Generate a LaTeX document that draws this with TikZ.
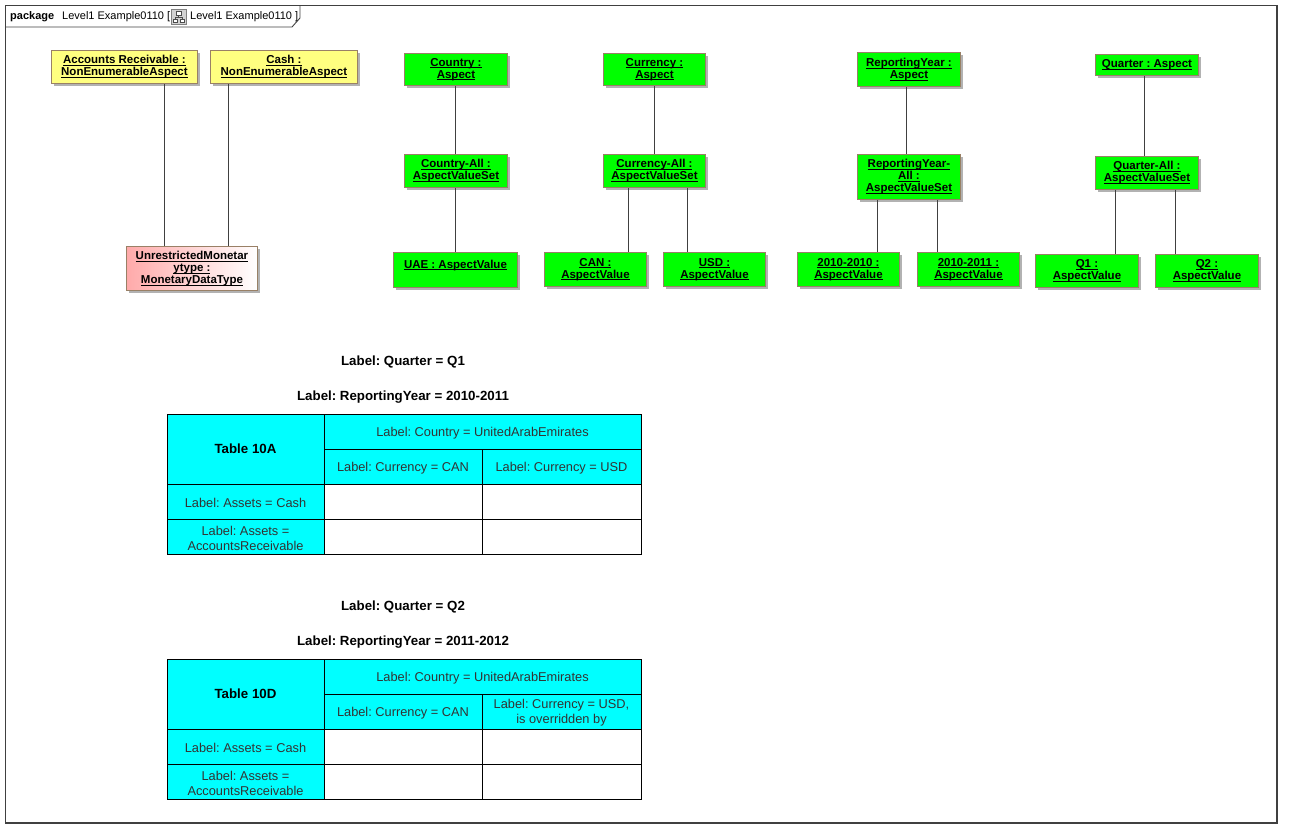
\documentclass[tikz,border=0pt]{standalone}
\usepackage{fontspec}
\setmainfont{Liberation Sans}
\usetikzlibrary{shadows}
\frenchspacing

\definecolor{objline}{RGB}{153,128,102}
\definecolor{objgreen}{RGB}{0,255,0}
\definecolor{objyellow}{RGB}{255,255,128}
\definecolor{objpink}{RGB}{255,170,170}
\definecolor{tabcyan}{RGB}{0,255,255}
\definecolor{framegray}{RGB}{64,64,64}

\newsavebox{\ulinbox}
\newcommand{\ulin}[1]{\sbox{\ulinbox}{#1}\rlap{\rule[-2pt]{\wd\ulinbox}{0.8pt}}\usebox{\ulinbox}}

\tikzset{
  obj/.style={draw=objline,line width=0.9pt,anchor=north west,align=center,inner sep=0pt,
    font=\bfseries\fontsize{11.5}{12}\selectfont,
    general shadow={fill=black!30,shadow xshift=3pt,shadow yshift=-3pt}},
  aspect/.style={obj,fill=objgreen},
  nonenum/.style={obj,fill=objyellow},
  dtype/.style={obj,left color=objpink,right color=white},
  link/.style={draw=framegray,line width=0.9pt},
  cell/.style={font=\fontsize{12.8}{15}\selectfont,text=black!80,align=center,inner sep=0pt,yshift=-1.5pt},
  heading/.style={font=\bfseries\fontsize{13.3}{15}\selectfont,inner sep=0pt}
}

\begin{document}
\begin{tikzpicture}[x=1pt,y=-1pt]
  \useasboundingbox (0,0) rectangle (1292,838);
  % package frame
  \draw[framegray,line width=1.2pt] (5.5,5.5) rectangle (1277,823);
  \draw[framegray,line width=0.9pt] (5.5,27) -- (292,27) -- (300,18) -- (300,5.5);
  \node[anchor=base west,inner sep=0pt,font=\bfseries\fontsize{11}{12}\selectfont] (pkg) at (10,19) {package};
  \node[anchor=base west,inner sep=0pt,font=\fontsize{11}{12}\selectfont] (pkgname) at (62,19) {Level1 Example0110 [};
  \node[anchor=base west,inner sep=0pt,font=\fontsize{11}{12}\selectfont] (pkgref) at (190,19) {Level1 Example0110 ]};
  % diagram icon
  \draw[gray,fill=gray!35] (171,9) rectangle (186,24);
  \draw[black!70,fill=white] (176,11) rectangle (181,15);
  \draw[black!70,fill=white] (173,19) rectangle (177,22.5);
  \draw[black!70,fill=white] (180,19) rectangle (184,22.5);
  \draw[black!70] (178.5,15) -- (178.5,17) -- (175,17) -- (175,19);
  \draw[black!70] (178.5,17) -- (182,17) -- (182,19);

  % aspects
  \node[nonenum,minimum width=146,minimum height=33] (ar) at (51,50) {\ulin{Accounts Receivable :}\\\ulin{NonEnumerableAspect}};
  \node[nonenum,minimum width=147,minimum height=33] (cash) at (210,50) {\ulin{Cash :}\\\ulin{NonEnumerableAspect}};
  \node[dtype,minimum width=131,minimum height=44] (mon) at (126,246) {\ulin{UnrestrictedMonetar}\\\ulin{ytype :}\\\ulin{MonetaryDataType}};

  \node[aspect,minimum width=103,minimum height=32] (country) at (404,53) {\ulin{Country :}\\\ulin{Aspect}};
  \node[aspect,minimum width=103,minimum height=33] (countryall) at (404,154) {\ulin{Country-All :}\\\ulin{AspectValueSet}};
  \node[aspect,minimum width=124,minimum height=35] (uae) at (393,252) {\ulin{UAE : AspectValue}\\\mbox{}};

  \node[aspect,minimum width=102,minimum height=32] (currency) at (603,53) {\ulin{Currency :}\\\ulin{Aspect}};
  \node[aspect,minimum width=102,minimum height=33] (currencyall) at (603,154) {\ulin{Currency-All :}\\\ulin{AspectValueSet}};
  \node[aspect,minimum width=102,minimum height=34] (can) at (544,252) {\ulin{CAN :}\\\ulin{AspectValue}};
  \node[aspect,minimum width=102,minimum height=34] (usd) at (663,252) {\ulin{USD :}\\\ulin{AspectValue}};

  \node[aspect,minimum width=103,minimum height=34] (ryear) at (857,52) {\ulin{ReportingYear :}\\\ulin{Aspect}};
  \node[aspect,minimum width=103,minimum height=45] (ryearall) at (857,154) {\ulin{ReportingYear-}\\\ulin{All :}\\\ulin{AspectValueSet}};
  \node[aspect,minimum width=102,minimum height=34] (y1010) at (797,252) {\ulin{2010-2010 :}\\\ulin{AspectValue}};
  \node[aspect,minimum width=102,minimum height=34] (y1011) at (917,252) {\ulin{2010-2011 :}\\\ulin{AspectValue}};

  \node[aspect,minimum width=103,minimum height=21] (quarter) at (1095,54) {\ulin{Quarter : Aspect}};
  \node[aspect,minimum width=103,minimum height=33] (quarterall) at (1095,156) {\ulin{Quarter-All :}\\\ulin{AspectValueSet}};
  \node[aspect,minimum width=103,minimum height=33] (q1) at (1035,254) {\ulin{Q1 :}\\\ulin{AspectValue}};
  \node[aspect,minimum width=103,minimum height=33] (q2) at (1155,254) {\ulin{Q2 :}\\\ulin{AspectValue}};

  % links
  \foreach \a/\b/\x in {ar/mon/164,cash/mon/228,country/countryall/455,countryall/uae/455,
      currency/currencyall/654,currencyall/can/628,currencyall/usd/687,
      ryear/ryearall/906,ryearall/y1010/877,ryearall/y1011/937,
      quarter/quarterall/1144,quarterall/q1/1115,quarterall/q2/1175}
    \draw[link] (\a.south -| \x,0) -- (\b.north -| \x,0);

  % table 10A
  \begin{scope}[name prefix=ta-]
    \node[heading] (quarter) at (403,362) {Label: Quarter = Q1};
    \node[heading] (year) at (403,397) {Label: ReportingYear = 2010-2011};
    \fill[tabcyan] (167,414) rectangle (641,554);
    \fill[white] (324,484) rectangle (641,554);
    \draw[line width=0.9pt] (167,414) rectangle (641,554);
    \draw[line width=0.9pt] (324,414) -- (324,554) (324,449) -- (641,449) (482,449) -- (482,554)
      (167,484) -- (641,484) (167,519) -- (641,519);
    \node[heading] (title) at (245.5,449) {Table 10A};
    \node[cell] (country) at (482.5,431.5) {Label: Country = UnitedArabEmirates};
    \node[cell] (can) at (403,466.5) {Label: Currency = CAN};
    \node[cell] (usd) at (561.5,466.5) {Label: Currency = USD};
    \node[cell] (cash) at (245.5,501.5) {Label: Assets = Cash};
    \node[cell] (ar) at (245.5,536.5) {Label: Assets =\\AccountsReceivable};
  \end{scope}

  % table 10D
  \begin{scope}[name prefix=td-,shift={(0,245)}]
    \node[heading] (quarter) at (403,362) {Label: Quarter = Q2};
    \node[heading] (year) at (403,397) {Label: ReportingYear = 2011-2012};
    \fill[tabcyan] (167,414) rectangle (641,554);
    \fill[white] (324,484) rectangle (641,554);
    \draw[line width=0.9pt] (167,414) rectangle (641,554);
    \draw[line width=0.9pt] (324,414) -- (324,554) (324,449) -- (641,449) (482,449) -- (482,554)
      (167,484) -- (641,484) (167,519) -- (641,519);
    \node[heading] (title) at (245.5,449) {Table 10D};
    \node[cell] (country) at (482.5,431.5) {Label: Country = UnitedArabEmirates};
    \node[cell] (can) at (403,466.5) {Label: Currency = CAN};
    \node[cell] (usd) at (561.5,466.5) {Label: Currency = USD,\\is overridden by};
    \node[cell] (cash) at (245.5,501.5) {Label: Assets = Cash};
    \node[cell] (ar) at (245.5,536.5) {Label: Assets =\\AccountsReceivable};
  \end{scope}
\end{tikzpicture}
\end{document}
